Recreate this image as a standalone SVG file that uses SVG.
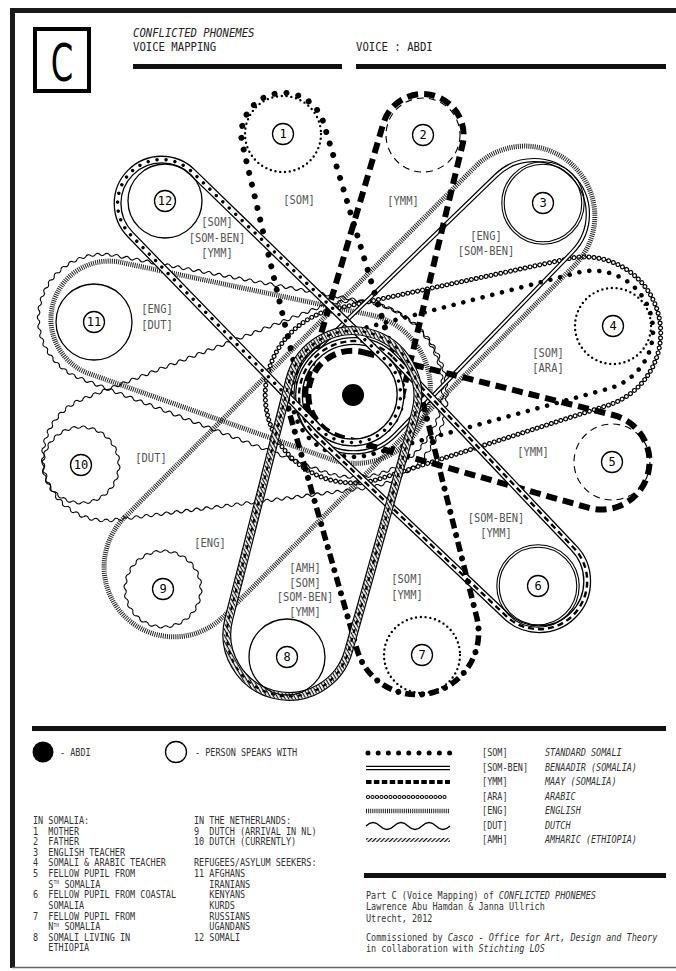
<svg xmlns="http://www.w3.org/2000/svg" xmlns:xlink="http://www.w3.org/1999/xlink" width="676" height="971" viewBox="0 0 676 971">
<style>
.som{fill:none;stroke:#000;stroke-width:6;stroke-linecap:round;stroke-dasharray:0 12}
.som4{fill:none;stroke:#000;stroke-width:4.6;stroke-linecap:round;stroke-dasharray:0 10}
.ymm{fill:none;stroke:#000;stroke-width:6;stroke-dasharray:11 6}
.dblo{fill:none;stroke:#000;stroke-width:4.4}
.dbli{fill:none;stroke:#fff;stroke-width:2}
.eng{fill:none;stroke:#222;stroke-width:5;stroke-dasharray:1 1.1}
.arao{fill:none;stroke:#000;stroke-width:5;stroke-linecap:round;stroke-dasharray:0 5}
.arai{fill:none;stroke:#fff;stroke-width:2.6;stroke-linecap:round;stroke-dasharray:0 5}
.wvl{fill:none;stroke:#000;stroke-width:1.1}
.bando{fill:none;stroke:#000;stroke-width:8}
.bandi{fill:none;stroke:#fff;stroke-width:5.4}
.bdash{fill:none;stroke:#000;stroke-width:2.4;stroke-dasharray:6 4}
.bdot{fill:none;stroke:#000;stroke-width:3.4;stroke-linecap:round;stroke-dasharray:0 9}
.amho{fill:none;stroke:#000;stroke-width:9}
.amhw{fill:none;stroke:#fff;stroke-width:6.6}
.amhi{fill:none;stroke:url(#diag);stroke-width:6.6}
.amhd{fill:none;stroke:#000;stroke-width:2.2;stroke-dasharray:4 5}
.yd{fill:none;stroke:#000;stroke-width:5.5;stroke-dasharray:10 14}
.sd{fill:none;stroke:#000;stroke-width:6;stroke-linecap:round;stroke-dasharray:0 24;stroke-dashoffset:-17}
.cdot{fill:none;stroke:#000;stroke-width:2.4;stroke-linecap:round;stroke-dasharray:0 4.8}
.cdash{fill:none;stroke:#000;stroke-width:1.1;stroke-dasharray:7 5}
.cthin{fill:none;stroke:#000;stroke-width:1.3}
.cdbl{fill:none;stroke:#000;stroke-width:1.1}
.wv{fill:none;stroke:#000;stroke-width:1.1}
.lab{fill:#fff;stroke:#000;stroke-width:1.3}
.num{font-family:"DejaVu Sans Mono",monospace;font-size:12px;text-anchor:middle;fill:#000}
.lbl{font-family:"DejaVu Sans Mono",monospace;font-size:12px;fill:#555;text-anchor:middle}
.hd{font-family:"DejaVu Sans Mono",monospace;font-size:12px;fill:#222}
.lg{font-family:"DejaVu Sans Mono",monospace;font-size:10px;fill:#333}
.it{font-style:italic}
</style>
<defs>
<pattern id="diag" width="3" height="3" patternUnits="userSpaceOnUse" patternTransform="rotate(45)"><rect width="1.2" height="3" fill="#111"/></pattern>
<path id="ws" class="wv" d="M38,0 A3.3,3.3 0 0 1 37.676,4.96 A3.3,3.3 0 0 0 36.705,9.835"/>
<g id="w60"><use href="#ws"/><use href="#ws" transform="rotate(15)"/><use href="#ws" transform="rotate(30)"/><use href="#ws" transform="rotate(45)"/></g>
<g id="wcirc"><use href="#w60"/><use href="#w60" transform="rotate(60)"/><use href="#w60" transform="rotate(120)"/><use href="#w60" transform="rotate(180)"/><use href="#w60" transform="rotate(240)"/><use href="#w60" transform="rotate(300)"/></g>
<path id="wl" d="M0,0 q2.5,-2.8 5,0 t5,0 t5,0 t5,0 t5,0 t5,0 t5,0 t5,0 t5,0 t5,0 t5,0 t5,0 t5,0 t5,0 t5,0 t5,0 t5,0 t5,0 t5,0 t5,0 t5,0 t5,0 t5,0 t5,0 t5,0 t5,0 t5,0 t5,0 t5,0 t5,0 t5,0 t5,0 t5,0 t5,0 t5,0 t5,0 t5,0 t5,0 t5,0 t5,0 t5,0 t5,0 t5,0 t5,0 t5,0 t5,0 t5,0 t5,0 t5,0 t5,0"/>
<path id="a63" d="M63,0 A3,3 0 0 1 62.796,5.065 A3,3 0 0 0 62.186,10.096"/>
<g id="a63x3"><use href="#a63"/><use href="#a63" transform="rotate(9.222)"/><use href="#a63" transform="rotate(18.444)"/></g>
<path id="a94" d="M94,0 A3,3 0 0 1 93.869,4.970 A3,3 0 0 0 93.475,9.925"/>
<g id="a94x4"><use href="#a94"/><use href="#a94" transform="rotate(6.061)"/><use href="#a94" transform="rotate(12.122)"/><use href="#a94" transform="rotate(18.183)"/></g>
<path id="a64" d="M64,0 A3,3 0 0 1 63.825,4.729 A3,3 0 0 0 63.301,9.432"/>
<g id="a64x4"><use href="#a64"/><use href="#a64" transform="rotate(8.4745)"/><use href="#a64" transform="rotate(16.949)"/><use href="#a64" transform="rotate(25.4235)"/></g>
<path id="a88" d="M88,0 A3,3 0 0 1 87.865,4.874 A3,3 0 0 0 87.460,9.734"/>
<g id="a88x5"><use href="#a88"/><use href="#a88" transform="rotate(6.3503)"/><use href="#a88" transform="rotate(12.7006)"/><use href="#a88" transform="rotate(19.0509)"/><use href="#a88" transform="rotate(25.4012)"/></g>
<path id="p1" d="M1.5,-50 L269.3,-42 A42,42 0 0 1 269.3,42 L1.5,50 A50,50 0 1 1 1.5,-50Z"/>
<path id="p2" d="M1.2,-48 L269.1,-41 A41,41 0 0 1 269.1,41 L1.2,48 A48,48 0 1 1 1.2,-48Z"/>
<path id="p3" d="M0.9,-58 L255.8,-54 A54,54 0 0 1 255.8,54 L0.9,58 A58,58 0 1 1 0.9,-58Z"/>
<path id="p39" d="M-248,-75 L248,-75 A70,70 0 0 1 248,65 L-248,65 A70,70 0 0 1 -248,-75Z"/>
<path id="p4a" d="M4.4,-87.9 L243.8,-75.9 A76,76 0 0 1 243.8,75.9 L4.4,87.9 A88,88 0 1 1 4.4,-87.9Z"/>
<path id="p4s" d="M0.5,-62 L248.5,-60 A60,60 0 0 1 248.5,60 L0.5,62 A62,62 0 1 1 0.5,-62Z"/>
<path id="p5" d="M-0.7,-44 L257.3,-48 A48,48 0 1 1 257.3,48 L-0.7,44 A44,44 0 0 1 -0.7,-44Z"/>
<path id="p6" d="M1.5,-55 L263.3,-48 A48,48 0 0 1 263.3,48 L1.5,55 A55,55 0 1 1 1.5,-55Z"/>
<path id="p7" d="M1.1,-66 L246,-62 A62,62 0 0 1 246,62 L1.1,66 A66,66 0 1 1 1.1,-66Z"/>
<path id="p8" d="M0.8,-65 L247.8,-62 A62,62 0 0 1 247.8,62 L0.8,65 A65,65 0 1 1 0.8,-65Z"/>
<path id="p11e" d="M5,-67.8 L258.9,-50.9 A58,58 0 0 1 258.9,64.9 L5,81.8 A75,75 0 1 1 5,-67.8Z"/>
<path id="p12" d="M0.7,-48 L270.7,-44 A44,44 0 0 1 270.7,44 L0.7,48 A48,48 0 1 1 0.7,-48Z"/>
</defs>

<rect width="676" height="971" fill="#fff"/>
<path d="M12.5,968 V10.5 H676" fill="none" stroke="#1a1a1a" stroke-width="5"/>
<line x1="12" y1="967.5" x2="676" y2="967.5" stroke="#666" stroke-width="1.5"/>

<g id="header">
<rect x="35" y="29" width="54" height="62" fill="none" stroke="#000" stroke-width="4"/>
<text transform="translate(62,81) scale(0.62,1)" font-family="DejaVu Sans,sans-serif" font-size="52" text-anchor="middle">C</text>
<text class="hd it" transform="translate(133,37) scale(0.885,1)">CONFLICTED PHONEMES</text>
<text class="hd" transform="translate(133,51) scale(0.885,1)">VOICE MAPPING</text>
<text class="hd" transform="translate(356,51) scale(0.885,1)">VOICE : ABDI</text>
<rect x="133" y="64" width="209" height="5" fill="#111"/>
<rect x="356" y="64" width="310" height="5" fill="#111"/>
</g>

<g id="connectors">
<g id="loop-10-dut" class="wvl" transform="translate(353,395) rotate(165.8)">
<use href="#wl" transform="translate(11.4,-93.3) rotate(6.99) scale(1.0128,1)"/>
<use href="#wl" transform="translate(11.4,93.3) rotate(-6.99) scale(1.0128,1)"/>
<g transform="translate(255,0) rotate(-83)"><use href="#a63x3"/><use href="#a63x3" transform="rotate(27.667)"/><use href="#a63x3" transform="rotate(55.333)"/><use href="#a63x3" transform="rotate(83)"/><use href="#a63x3" transform="rotate(110.667)"/><use href="#a63x3" transform="rotate(138.333)"/></g>
<g transform="rotate(83.02)"><use href="#a94x4"/><use href="#a94x4" transform="rotate(24.244)"/><use href="#a94x4" transform="rotate(48.488)"/><use href="#a94x4" transform="rotate(72.732)"/><use href="#a94x4" transform="rotate(96.976)"/><use href="#a94x4" transform="rotate(121.22)"/><use href="#a94x4" transform="rotate(145.464)"/><use href="#a94x4" transform="rotate(169.708)"/></g>
</g>
<g id="loop-11-dut" class="wvl" transform="translate(353,395) rotate(195.7)">
<use href="#wl" transform="translate(8.06,-81.63) rotate(5.256) scale(1.0436,1)"/>
<use href="#wl" transform="translate(8.06,93.63) rotate(-5.256) scale(1.0436,1)"/>
<g transform="translate(262,6) rotate(-84.745)"><use href="#a64x4"/><use href="#a64x4" transform="rotate(33.898)"/><use href="#a64x4" transform="rotate(67.796)"/><use href="#a64x4" transform="rotate(101.694)"/><use href="#a64x4" transform="rotate(135.592)"/></g>
<g transform="translate(0,6) rotate(84.745)"><use href="#a88x5"/><use href="#a88x5" transform="rotate(31.752)"/><use href="#a88x5" transform="rotate(63.503)"/><use href="#a88x5" transform="rotate(95.255)"/><use href="#a88x5" transform="rotate(127.007)"/><use href="#a88x5" transform="rotate(158.758)"/></g>
</g>
<use href="#p4a" class="arao" transform="translate(353,395) rotate(-15)"/>
<use href="#p4a" class="arai" transform="translate(353,395) rotate(-15)"/>
<use href="#p39" class="eng" transform="translate(353,395) rotate(-45)"/>
<use href="#p11e" class="eng" transform="translate(353,395) rotate(195.7)"/>
<use href="#p3" class="dblo" transform="translate(353,395) rotate(-45)"/>
<use href="#p3" class="dbli" transform="translate(353,395) rotate(-45)"/>
<use href="#p4s" class="som4" transform="translate(353,395) rotate(-15)"/>
<use href="#p1" class="som" transform="translate(353,395) rotate(-105)"/>
<use href="#p2" class="ymm" transform="translate(353,395) rotate(-75)"/>
<use href="#p5" class="ymm" transform="translate(353,395) rotate(15)"/>
<use href="#p6" class="bando" transform="translate(353,395) rotate(45)"/>
<use href="#p6" class="bandi" transform="translate(353,395) rotate(45)"/>
<use href="#p6" class="bdash" transform="translate(353,395) rotate(45)"/>
<use href="#p12" class="bando" transform="translate(353,395) rotate(225)"/>
<use href="#p12" class="bandi" transform="translate(353,395) rotate(225)"/>
<use href="#p12" class="bdot" transform="translate(353,395) rotate(225)"/>
<use href="#p7" class="yd" transform="translate(353,395) rotate(75)"/>
<use href="#p7" class="sd" transform="translate(353,395) rotate(75)"/>
<use href="#p8" class="amho" transform="translate(353,395) rotate(105)"/>
<use href="#p8" class="amhw" transform="translate(353,395) rotate(105)"/>
<use href="#p8" class="amhi" transform="translate(353,395) rotate(105)"/>
<use href="#p8" class="amhd" transform="translate(353,395) rotate(105)"/>
</g>

<g id="abdi"><circle cx="353" cy="395" r="11" fill="#000"/></g>

<g id="node-1"><circle cx="283" cy="134" r="38" class="cdot"/><circle cx="283" cy="134" r="10.5" class="lab"/><text x="283" y="138.3" class="num">1</text></g>
<g id="node-2"><circle cx="423" cy="135" r="37" class="cdash"/><circle cx="423" cy="135" r="10.5" class="lab"/><text x="423" y="139.3" class="num">2</text></g>
<g id="node-3"><circle cx="543" cy="203" r="41.2" class="cdbl"/><circle cx="543" cy="203" r="38.8" class="cdbl"/><circle cx="543" cy="203" r="10.5" class="lab"/><text x="543" y="207.3" class="num">3</text></g>
<g id="node-4"><circle cx="613" cy="326" r="38" class="cdot"/><circle cx="613" cy="326" r="10.5" class="lab"/><text x="613" y="330.3" class="num">4</text></g>
<g id="node-5"><circle cx="612" cy="462" r="38" class="cdash"/><circle cx="612" cy="462" r="10.5" class="lab"/><text x="612" y="466.3" class="num">5</text></g>
<g id="node-6"><circle cx="538" cy="586" r="41.2" class="cdbl"/><circle cx="538" cy="586" r="38.8" class="cdbl"/><circle cx="538" cy="586" r="10.5" class="lab"/><text x="538" y="590.3" class="num">6</text></g>
<g id="node-7"><circle cx="422" cy="655" r="38" class="cdot"/><circle cx="422" cy="655" r="10.5" class="lab"/><text x="422" y="659.3" class="num">7</text></g>
<g id="node-8"><circle cx="287" cy="657" r="38" class="cthin"/><circle cx="287" cy="657" r="10.5" class="lab"/><text x="287" y="661.3" class="num">8</text></g>
<g id="node-9"><use href="#wcirc" transform="translate(163,589)"/><circle cx="163" cy="589" r="10.5" class="lab"/><text x="163" y="593.3" class="num">9</text></g>
<g id="node-10"><use href="#wcirc" transform="translate(81,465)"/><circle cx="81" cy="465" r="10.5" class="lab"/><text x="81" y="469.3" class="num">10</text></g>
<g id="node-11"><circle cx="94" cy="322" r="38" class="cthin"/><circle cx="94" cy="322" r="10.5" class="lab"/><text x="94" y="326.3" class="num">11</text></g>
<g id="node-12"><circle cx="165" cy="201" r="37" class="cthin"/><circle cx="165" cy="201" r="10.5" class="lab"/><text x="165" y="205.3" class="num">12</text></g>

<g id="labels">
<text class="lbl" transform="translate(299,204) scale(0.87,1)">[SOM]</text>
<text class="lbl" transform="translate(403,205) scale(0.87,1)">[YMM]</text>
<text class="lbl" transform="translate(486,240) scale(0.87,1)">[ENG]</text>
<text class="lbl" transform="translate(486,255) scale(0.87,1)">[SOM-BEN]</text>
<text class="lbl" transform="translate(548,357) scale(0.87,1)">[SOM]</text>
<text class="lbl" transform="translate(548,372) scale(0.87,1)">[ARA]</text>
<text class="lbl" transform="translate(533,456) scale(0.87,1)">[YMM]</text>
<text class="lbl" transform="translate(496,522) scale(0.87,1)">[SOM-BEN]</text>
<text class="lbl" transform="translate(496,537) scale(0.87,1)">[YMM]</text>
<text class="lbl" transform="translate(407,583) scale(0.87,1)">[SOM]</text>
<text class="lbl" transform="translate(407,599) scale(0.87,1)">[YMM]</text>
<text class="lbl" transform="translate(305,572) scale(0.87,1)">[AMH]</text>
<text class="lbl" transform="translate(305,587) scale(0.87,1)">[SOM]</text>
<text class="lbl" transform="translate(305,601) scale(0.87,1)">[SOM-BEN]</text>
<text class="lbl" transform="translate(305,616) scale(0.87,1)">[YMM]</text>
<text class="lbl" transform="translate(210,547) scale(0.87,1)">[ENG]</text>
<text class="lbl" transform="translate(151,462) scale(0.87,1)">[DUT]</text>
<text class="lbl" transform="translate(157,313) scale(0.87,1)">[ENG]</text>
<text class="lbl" transform="translate(157,329) scale(0.87,1)">[DUT]</text>
<text class="lbl" transform="translate(217,226) scale(0.87,1)">[SOM]</text>
<text class="lbl" transform="translate(217,242) scale(0.87,1)">[SOM-BEN]</text>
<text class="lbl" transform="translate(217,257) scale(0.87,1)">[YMM]</text>
</g>

<g id="legend">
<rect x="32" y="726" width="634" height="5" fill="#111"/>
<rect x="364" y="873" width="302" height="5" fill="#111"/>
<circle cx="43" cy="752" r="10.5" fill="#000"/>
<circle cx="176" cy="752" r="10.5" fill="none" stroke="#000" stroke-width="1.3"/>
<line x1="368" y1="753" x2="450" y2="753" style="stroke:#000;stroke-width:5;stroke-linecap:round;stroke-dasharray:0 10.2"/>
<line x1="366" y1="768" x2="450" y2="768" class="dblo"/>
<line x1="366" y1="768" x2="450" y2="768" class="dbli"/>
<line x1="366" y1="782" x2="450" y2="782" style="stroke:#000;stroke-width:4;stroke-dasharray:5.5 2.4"/>
<line x1="368" y1="797" x2="449" y2="797" style="stroke:#000;stroke-width:4.2;stroke-linecap:round;stroke-dasharray:0 4.5"/>
<line x1="368" y1="797" x2="449" y2="797" style="stroke:#fff;stroke-width:2.2;stroke-linecap:round;stroke-dasharray:0 4.5"/>
<line x1="366" y1="811" x2="450" y2="811" class="eng" style="stroke-width:4.5"/>
<path d="M366,826 q7,-7 14,0 t14,0 t14,0 t14,0 t14,0 t14,0" class="wv" style="stroke-width:1.3"/>
<rect x="366" y="838" width="84" height="4" fill="url(#diag)"/>
<g class="lg" transform="scale(0.85,1)">
<text x="70.6" y="756">- ABDI</text>
<text x="229.4" y="756">- PERSON SPEAKS WITH</text>
<text x="38.8" y="824">IN SOMALIA:</text>
<text x="38.8" y="834.6">1<tspan x="56.9">MOTHER</tspan></text>
<text x="38.8" y="845.2">2<tspan x="56.9">FATHER</tspan></text>
<text x="38.8" y="855.9">3<tspan x="56.9">ENGLISH TEACHER</tspan></text>
<text x="38.8" y="866.5">4<tspan x="56.9">SOMALI &amp; ARABIC TEACHER</tspan></text>
<text x="38.8" y="877.1">5<tspan x="56.9">FELLOW PUPIL FROM</tspan></text>
<text x="56.9" y="887.7">S<tspan font-size="5.5" dy="-3.5">TH</tspan><tspan x="75.9" dy="3.5">SOMALIA</tspan></text>
<text x="38.8" y="898.3">6<tspan x="56.9">FELLOW PUPIL FROM COASTAL</tspan></text>
<text x="56.9" y="909">SOMALIA</text>
<text x="38.8" y="919.6">7<tspan x="56.9">FELLOW PUPIL FROM</tspan></text>
<text x="56.9" y="930.2">N<tspan font-size="5.5" dy="-3.5">TH</tspan><tspan x="75.9" dy="3.5">SOMALIA</tspan></text>
<text x="38.8" y="940.8">8<tspan x="56.9">SOMALI LIVING IN</tspan></text>
<text x="56.9" y="951.4">ETHIOPIA</text>
<text x="228.2" y="824">IN THE NETHERLANDS:</text>
<text x="228.2" y="834.6">9<tspan x="246.3">DUTCH (ARRIVAL IN NL)</tspan></text>
<text x="228.2" y="845.2">10<tspan x="246.3">DUTCH (CURRENTLY)</tspan></text>
<text x="228.2" y="866.5">REFUGEES/ASYLUM SEEKERS:</text>
<text x="228.2" y="877.1">11<tspan x="246.3">AFGHANS</tspan></text>
<text x="246.3" y="887.7">IRANIANS</text>
<text x="246.3" y="898.3">KENYANS</text>
<text x="246.3" y="909">KURDS</text>
<text x="246.3" y="919.6">RUSSIANS</text>
<text x="246.3" y="930.2">UGANDANS</text>
<text x="228.2" y="940.8">12<tspan x="246.3">SOMALI</tspan></text>
<text x="567.1" y="756.5">[SOM]</text>
<text x="567.1" y="771">[SOM-BEN]</text>
<text x="567.1" y="785">[YMM]</text>
<text x="567.1" y="800">[ARA]</text>
<text x="567.1" y="814">[ENG]</text>
<text x="567.1" y="829">[DUT]</text>
<text x="567.1" y="843">[AMH]</text>
<text class="it" x="641.2" y="756.5">STANDARD SOMALI</text>
<text class="it" x="641.2" y="771">BENAADIR (SOMALIA)</text>
<text class="it" x="641.2" y="785">MAAY (SOMALIA)</text>
<text class="it" x="641.2" y="800">ARABIC</text>
<text class="it" x="641.2" y="814">ENGLISH</text>
<text class="it" x="641.2" y="829">DUTCH</text>
<text class="it" x="641.2" y="843">AMHARIC (ETHIOPIA)</text>
<text x="430.6" y="899">Part C (Voice Mapping) of <tspan class="it">CONFLICTED PHONEMES</tspan></text>
<text x="430.6" y="910.5">Lawrence Abu Hamdan &amp; Janna Ullrich</text>
<text x="430.6" y="922">Utrecht, 2012</text>
<text x="430.6" y="941">Commissioned by <tspan class="it">Casco - Office for Art, Design and Theory</tspan></text>
<text x="430.6" y="952.5">in collaboration with <tspan class="it">Stichting LOS</tspan></text>
</g>
</g>
</svg>
